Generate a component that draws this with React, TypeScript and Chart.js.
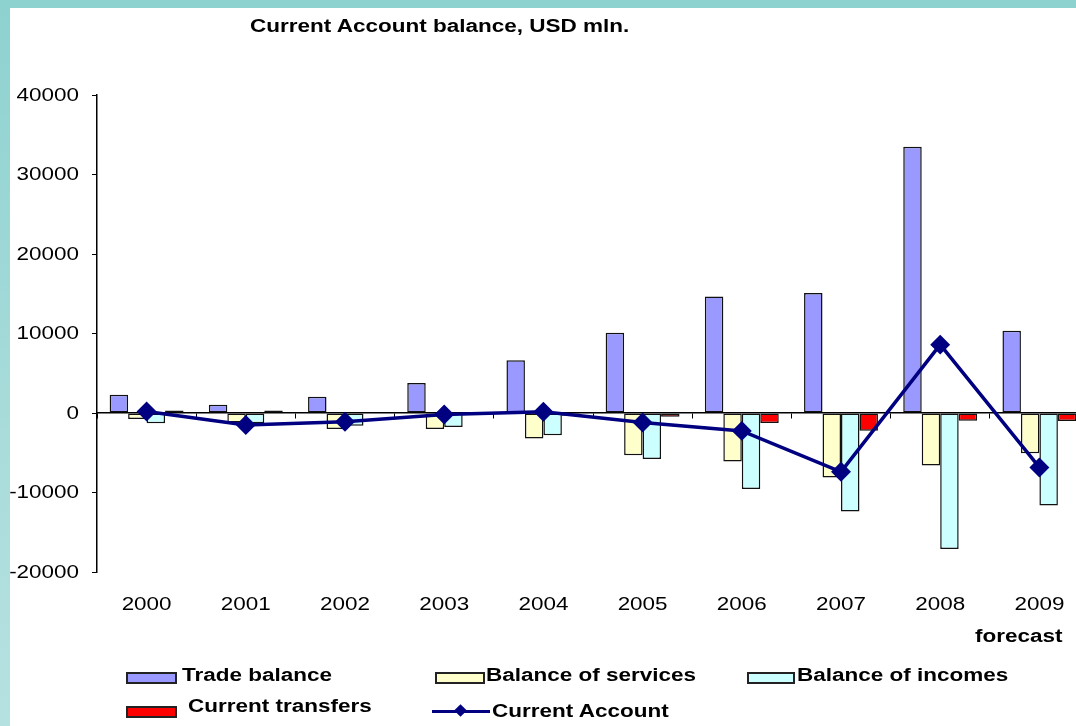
import React, { useEffect, useRef } from "react";
import { Chart, registerables } from "chart.js";

Chart.register(...registerables);

const categories = ["2000", "2001", "2002", "2003", "2004", "2005", "2006", "2007", "2008", "2009"];
const tradeBalance = [2300, 1050, 2050, 3770, 6650, 10100, 14650, 15100, 33500, 10350];
const balanceOfServices = [-760, -1200, -2000, -2000, -3200, -5300, -6100, -8100, -6600, -5050];
const balanceOfIncomes = [-1300, -1300, -1600, -1750, -2800, -5800, -9550, -12400, -17100, -11650];
const currentTransfers = [300, 300, 50, -200, -350, -470, -1260, -2230, -970, -1000];
const currentAccount = [200, -1500, -1100, -200, 150, -1200, -2250, -7400, 8600, -6850];
const yTickValues = [40000, 30000, 20000, 10000, 0, -10000, -20000];

const FONT = "'Liberation Sans', Arial, sans-serif";

const stretchedLabels = {
  id: "stretchedLabels",
  afterDraw(chart: any) {
    const ctx = chart.ctx;
    const ys = chart.scales.y;
    const xs = chart.scales.x;
    ctx.save();
    ctx.fillStyle = "#000";
    ctx.font = `17px ${FONT}`;
    ctx.textBaseline = "middle";
    ctx.textAlign = "right";
    for (const v of yTickValues) {
      const py = ys.getPixelForValue(v);
      ctx.save();
      ctx.translate(79, py + 1);
      ctx.scale(1.32, 1.05);
      ctx.fillText(String(v), 0, 0);
      ctx.restore();
    }
    ctx.textAlign = "center";
    categories.forEach((c, i) => {
      const px = xs.getPixelForValue(i);
      ctx.save();
      ctx.translate(px, 605);
      ctx.scale(1.32, 1.05);
      ctx.fillText(c, 0, 0);
      ctx.restore();
    });
    ctx.restore();
  },
};

const textStyle = (left: number, top: number): React.CSSProperties => ({
  position: "absolute",
  left,
  top,
  fontFamily: FONT,
  fontWeight: "bold",
  fontSize: 18,
  lineHeight: "18px",
  whiteSpace: "nowrap",
  color: "#000",
  transform: "scaleX(1.25)",
  transformOrigin: "left center",
});

const boxStyle = (left: number, top: number, width: number, color: string): React.CSSProperties => ({
  position: "absolute",
  left,
  top,
  width,
  height: 8,
  background: color,
  border: "2px solid #222",
});

export default function App() {
  const canvasRef = useRef<HTMLCanvasElement | null>(null);

  useEffect(() => {
    if (!canvasRef.current) return;
    const barCommon = {
      type: "bar" as const,
      borderColor: "#111",
      borderWidth: 1.5,
      borderSkipped: false,
      barPercentage: 1,
      categoryPercentage: 0.745,
      order: 1,
      xAxisID: "x",
      yAxisID: "y",
    };
    const chart = new Chart(canvasRef.current, {
      type: "bar",
      data: {
        labels: categories,
        datasets: [
          { ...barCommon, label: "Trade balance", data: tradeBalance, backgroundColor: "#9999FF" },
          { ...barCommon, label: "Balance of services", data: balanceOfServices, backgroundColor: "#FFFFCC" },
          { ...barCommon, label: "Balance of incomes", data: balanceOfIncomes, backgroundColor: "#CCFFFF" },
          { ...barCommon, label: "Current transfers", data: currentTransfers, backgroundColor: "#FF0000" },
          {
            type: "line",
            label: "Current Account",
            data: currentAccount,
            borderColor: "#000080",
            backgroundColor: "#000080",
            borderWidth: 3.5,
            pointStyle: "rectRot",
            pointRadius: 7.5,
            pointBackgroundColor: "#000080",
            pointBorderColor: "#000080",
            tension: 0,
            order: 0,
            xAxisID: "x",
            yAxisID: "y",
          } as any,
        ],
      },
      options: {
        responsive: false,
        devicePixelRatio: 1,
        animation: false,
        layout: { padding: { left: 0, top: 95, right: 9, bottom: 0 } },
        plugins: {
          legend: { display: false },
          title: { display: false },
          tooltip: { enabled: false },
        },
        scales: {
          y: {
            type: "linear",
            position: "left",
            min: -20000,
            max: 40000,
            ticks: { stepSize: 10000, display: false },
            grid: { drawOnChartArea: false, drawTicks: true, tickLength: 5, color: "#000" },
            border: { display: true, color: "#000", width: 1.5 },
            afterFit: (s: any) => {
              s.width = 97;
            },
          },
          x: {
            type: "category",
            position: { y: 0 } as any,
            offset: true,
            ticks: { display: false },
            grid: { offset: true, drawOnChartArea: false, drawTicks: true, tickLength: 5, color: "#000" },
            border: { display: true, color: "#000", width: 1.5 },
          },
          x2: {
            type: "category",
            position: "bottom",
            offset: true,
            ticks: { display: false },
            grid: { display: false },
            border: { display: false },
            afterFit: (s: any) => {
              s.height = 154;
            },
          },
        },
      } as any,
      plugins: [stretchedLabels],
    });
    return () => chart.destroy();
  }, []);

  return (
    <div
      style={{
        position: "fixed",
        left: 0,
        top: 0,
        width: 1076,
        height: 726,
        overflow: "hidden",
        background: "linear-gradient(180deg, #8dd2cf 0%, #a9dcdb 60%, #b6e1e1 100%)",
      }}
    >
      <div style={{ position: "absolute", left: 10, top: 8, width: 1200, height: 800, background: "#fff" }} />
      <canvas
        ref={canvasRef}
        width={1100}
        height={726}
        style={{ position: "absolute", left: 0, top: 0, width: 1100, height: 726 }}
      />
      <div style={textStyle(250, 17)}>Current Account balance, USD mln.</div>
      <div style={textStyle(975, 627)}>forecast</div>

      <div style={boxStyle(126, 672, 47, "#9999FF")} />
      <div style={textStyle(182, 666)}>Trade balance</div>
      <div style={boxStyle(435, 672, 46, "#FFFFCC")} />
      <div style={textStyle(486, 666)}>Balance of services</div>
      <div style={boxStyle(747, 672, 44, "#CCFFFF")} />
      <div style={textStyle(797, 666)}>Balance of incomes</div>

      <div style={boxStyle(126, 706, 47, "#FF0000")} />
      <div style={textStyle(188, 697)}>Current transfers</div>
      <div style={{ position: "absolute", left: 432, top: 710, width: 58, height: 3, background: "#000080" }} />
      <div
        style={{
          position: "absolute",
          left: 456,
          top: 706,
          width: 9,
          height: 9,
          background: "#000080",
          transform: "rotate(45deg)",
        }}
      />
      <div style={textStyle(492, 702)}>Current Account</div>
    </div>
  );
}
